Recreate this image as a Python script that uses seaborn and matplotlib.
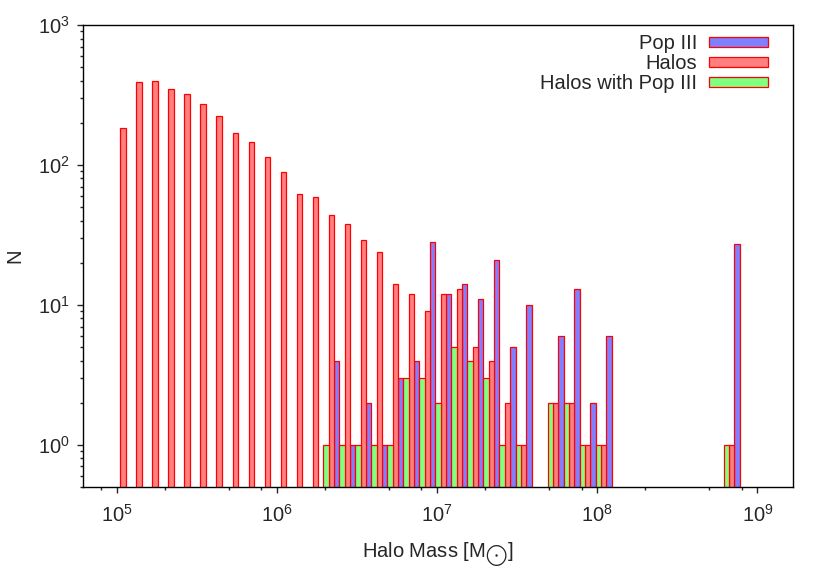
import pandas as pd
import matplotlib
matplotlib.use("Agg")
import matplotlib.pyplot as plt
import seaborn as sns
from matplotlib.patches import Patch
from matplotlib.ticker import LogLocator, NullFormatter

# log10 of bin centre halo mass [Msun], 0.1 dex bins
log_mass = [5.04, 5.14, 5.24, 5.34, 5.44, 5.54, 5.64, 5.74, 5.84, 5.94,
            6.04, 6.14, 6.24, 6.34, 6.44, 6.54, 6.64, 6.74, 6.84, 6.94,
            7.04, 7.14, 7.24, 7.34, 7.44, 7.54, 7.64, 7.74, 7.84, 7.94,
            8.04, 8.14, 8.24, 8.34, 8.44, 8.54, 8.64, 8.74, 8.84]

halos = [183, 389, 398, 349, 321, 273, 225, 169, 145, 114,
         89, 62, 59, 44, 38, 29, 24, 14, 12, 9,
         12, 13, 5, 4, 2, 1, 0, 2, 2, 1,
         1, 0, 0, 0, 0, 0, 0, 0, 1]

pop3 = [0, 0, 0, 0, 0, 0, 0, 0, 0, 0,
        0, 0, 0, 4, 1, 2, 1, 3, 4, 28,
        12, 14, 11, 21, 5, 10, 0, 6, 13, 2,
        6, 0, 0, 0, 0, 0, 0, 0, 27]

halos_pop3 = [0, 0, 0, 0, 0, 0, 0, 0, 0, 0,
              0, 0, 0, 1, 1, 1, 1, 1, 3, 3,
              2, 5, 4, 3, 1, 1, 0, 2, 2, 1,
              1, 0, 0, 0, 0, 0, 0, 0, 1]

# left-to-right order inside each bin
series_names = ["Halos with Pop III", "Halos", "Pop III"]
colors = {"Halos with Pop III": "#80ff80", "Halos": "#ff8080", "Pop III": "#8080ff"}

rows = []
for name, counts in zip(series_names, [halos_pop3, halos, pop3]):
    for lm, c in zip(log_mass, counts):
        if c > 0:
            rows.append({"mass": 10 ** lm, "count": c, "series": name})
df = pd.DataFrame(rows)

sns.set_style("ticks")
plt.rcParams["font.family"] = ["Liberation Sans", "DejaVu Sans"]
plt.rcParams["mathtext.fontset"] = "custom"
plt.rcParams["mathtext.rm"] = "Liberation Sans"
plt.rcParams["mathtext.it"] = "Liberation Sans:italic"

fig = plt.figure(figsize=(8.3, 5.81), dpi=100)
ax = fig.add_axes([0.1, 0.162, 0.855, 0.795])

sns.histplot(data=df, x="mass", weights="count", hue="series", hue_order=series_names,
             multiple="dodge", shrink=1, binwidth=0.1, binrange=(4.99, 8.99),
             log_scale=(True, True), palette=colors, alpha=1,
             edgecolor="red", linewidth=0.9, legend=False, ax=ax)

ax.set_yscale("log")
ax.set_xlim(10 ** 4.79, 10 ** 9.22)
ax.set_ylim(0.5, 1000)

ax.xaxis.set_major_locator(LogLocator(base=10))
ax.xaxis.set_minor_locator(LogLocator(base=10, subs=[2, 5, 8]))
ax.yaxis.set_minor_locator(LogLocator(base=10, subs=range(2, 10)))
ax.xaxis.set_minor_formatter(NullFormatter())
ax.yaxis.set_minor_formatter(NullFormatter())

ax.tick_params(which="major", length=4.5, width=1, direction="out", labelsize=14.5)
ax.tick_params(axis="x", which="major", pad=8)
ax.tick_params(axis="y", which="major", pad=5)
ax.tick_params(which="minor", length=2.5, width=1, direction="out")
for s in ax.spines.values():
    s.set_linewidth(1)
    s.set_color("black")

ax.set_xlabel(r"Halo Mass [M$_{\bigodot}$]", fontsize=14.5, labelpad=10)
ax.set_ylabel("N", fontsize=14.5, labelpad=10)

handles = [Patch(facecolor=colors[n], edgecolor="red", linewidth=0.9)
           for n in ["Pop III", "Halos", "Halos with Pop III"]]
ax.legend(handles, ["Pop III", "Halos", "Halos with Pop III"], loc="upper right",
          bbox_to_anchor=(1 - 25 / 710, 0.98), frameon=False, markerfirst=False,
          fontsize=14.5, handlelength=2.9, handleheight=0.45, handletextpad=0.6,
          labelspacing=0.05, borderaxespad=0, borderpad=0)

fig.savefig("out.png", dpi=100)
